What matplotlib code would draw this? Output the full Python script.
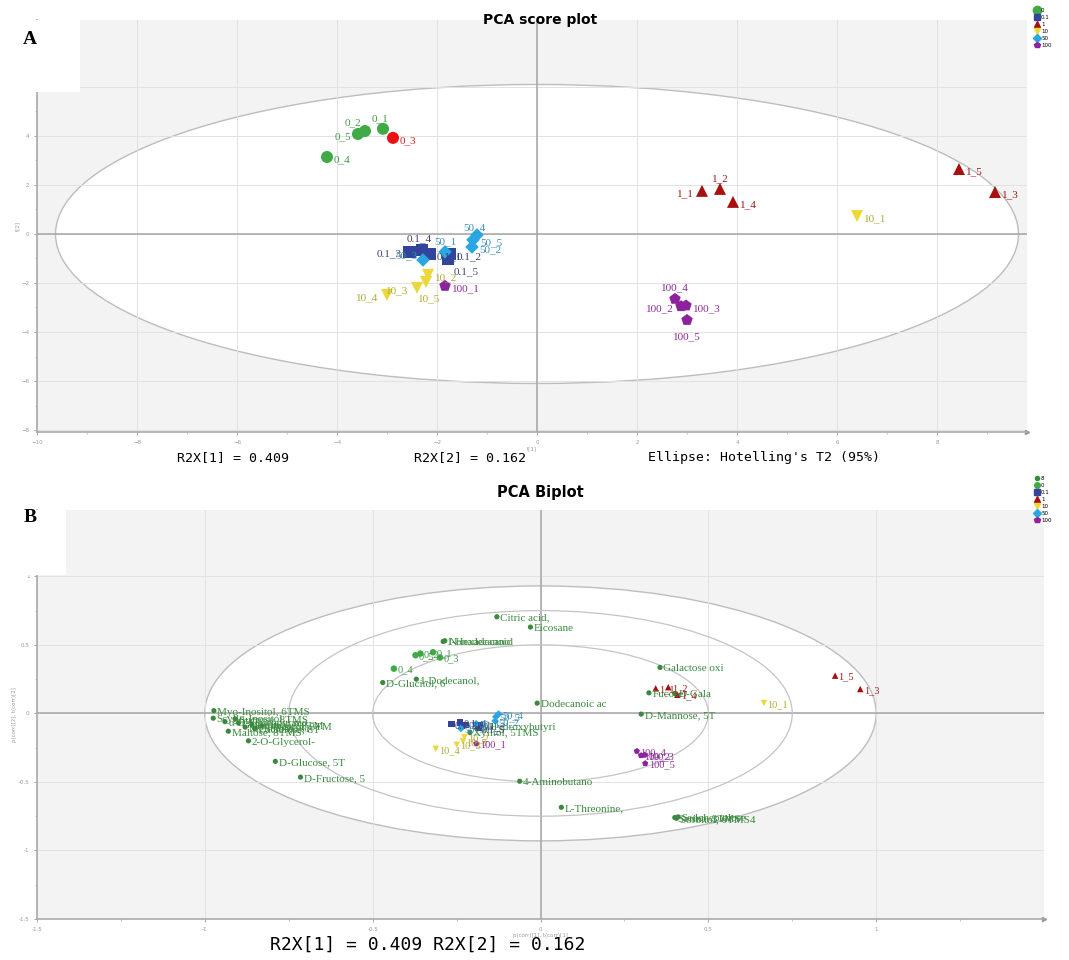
import matplotlib
matplotlib.use("Agg")
import matplotlib.pyplot as plt
from matplotlib.patches import Ellipse, Rectangle
from matplotlib.lines import Line2D

# ---- data: PCA scores (t[1], t[2]) per group ----
groups = ["0", "0.1", "1", "10", "50", "100"]
score_names = {
    "0": ["0_1", "0_2", "0_3", "0_4", "0_5"],
    "0.1": ["0.1_1", "0.1_2", "0.1_3", "0.1_4", "0.1_5"],
    "1": ["1_1", "1_2", "1_3", "1_4", "1_5"],
    "10": ["10_1", "10_2", "10_3", "10_4", "10_5"],
    "50": ["50_1", "50_2", "50_3", "50_4", "50_5"],
    "100": ["100_1", "100_2", "100_3", "100_4", "100_5"],
}
t1 = {
    "0": [-3.08, -3.44, -2.88, -4.20, -3.58],
    "0.1": [-2.15, -1.75, -2.55, -2.30, -1.78],
    "1": [3.30, 3.66, 9.16, 3.92, 8.44],
    "10": [6.40, -2.18, -2.40, -3.00, -2.22],
    "50": [-1.84, -1.30, -2.28, -1.20, -1.28],
    "100": [-1.84, 2.88, 2.98, 2.76, 3.00],
}
t2 = {
    "0": [4.29, 4.20, 3.92, 3.14, 4.08],
    "0.1": [-0.80, -0.82, -0.75, -0.65, -1.02],
    "1": [1.76, 1.84, 1.71, 1.31, 2.65],
    "10": [0.73, -1.67, -2.20, -2.49, -1.96],
    "50": [-0.73, -0.53, -1.06, -0.04, -0.24],
    "100": [-2.12, -2.95, -2.92, -2.65, -3.51],
}

# loadings p(corr)
load_names = ["Myo-Inositol, 6TMS", "Scyllo-Inositol", "α-D-Glucopyrano", "Sucrose, 8TMS",
              "Galactinol, 9", "Maltose, 8TMS", "Melibiose, 8T", "Turanose, 8TM",
              "Lactulose, 8T", "Glycerol, 3TM", "2-O-Glycerol-", "D-Glucose, 5T",
              "D-Fructose, 5", "Citric acid,", "Eicosane", "1-Hexadecanol",
              "Nonadecanoic", "D-Glucitol, 6", "1-Dodecanol,", "Dodecanoic ac",
              "3-Hydroxybutyri", "Xylitol, 5TMS", "4-Aminobutano", "L-Threonine,",
              "Galactose oxi", "Fucose", "D-Gala", "D-Mannose, 5T",
              "Serine, 3TMS", "Sorbitol, 6TMS4", "Sedoheptulose"]
load_x = [-0.973, -0.975, -0.94, -0.91, -0.90, -0.93, -0.88, -0.86, -0.85, -0.83,
          -0.87, -0.79, -0.715, -0.13, -0.03, -0.29, -0.285, -0.47, -0.37, -0.01,
          -0.19, -0.21, -0.062, 0.062, 0.356, 0.323, 0.40, 0.30, 0.40, 0.405, 0.41]
load_y = [0.02, -0.035, -0.06, -0.04, -0.07, -0.13, -0.10, -0.08, -0.11, -0.09,
          -0.20, -0.35, -0.465, 0.705, 0.63, 0.525, 0.53, 0.225, 0.25, 0.075,
          -0.09, -0.14, -0.495, -0.685, 0.335, 0.15, 0.145, -0.005, -0.76, -0.765, -0.755]

biplot_scale = 0.104   # scores scaled into loading space
r2x = [0.409, 0.162]
t2_ellipse = (9.63, 6.10)

colors = {"0": "#3faa46", "0.1": "#33449c", "1": "#a80f0f", "10": "#ecd83a",
          "50": "#2aa6e2", "100": "#8c229e"}
text_colors = {"0": "#3f9a45", "0.1": "#3a4470", "1": "#9a1a1a", "10": "#b5a832",
               "50": "#3a8fb8", "100": "#8a2a96"}
markers = {"0": "o", "0.1": "s", "1": "^", "10": "v", "50": "D", "100": "p"}
load_color = "#3a8a3e"
selected = "0_3"   # highlighted observation in the score plot

# label offsets in the score plot (points)
offs = {"0_1": (-2, 7, "center"), "0_2": (-3, 6, "right"), "0_3": (5, -2, "left"),
        "0_5": (-5, -2, "right"), "1_1": (-6, -2, "right"), "1_2": (0, 7, "center"),
        "10_3": (-6, -2, "right"), "10_4": (-6, -2, "right"), "10_5": (2, -12, "center"),
        "50_1": (0, 7, "center"), "50_3": (-4, 3, "right"), "50_4": (-2, 5, "center"),
        "0.1_3": (-6, -1, "right"), "0.1_4": (-2, 8, "center"), "0.1_5": (4, -9, "left"),
        "100_2": (-5, -2, "right"), "100_4": (0, 8, "center"), "100_5": (0, -12, "center")}

fig = plt.figure(figsize=(10.69, 9.6), dpi=100)
W, H = 1069, 960


def style_axes(ax):
    ax.set_facecolor("#f3f3f3")
    ax.grid(True, color="#e2e2e2", lw=0.7)
    for s in ["top", "right"]:
        ax.spines[s].set_visible(False)
    for s in ["left", "bottom"]:
        ax.spines[s].set_color("#aaaaaa")
        ax.spines[s].set_linewidth(1.2)
    ax.tick_params(labelsize=4, colors="#999999", length=2, width=0.6)
    ax.tick_params(which="minor", length=1.5, width=0.5, colors="#aaaaaa")
    ax.axhline(0, color="#a5a5a5", lw=1.1, zorder=1.6)
    ax.axvline(0, color="#a5a5a5", lw=1.1, zorder=1.6)
    ax.plot(1, 0, ">", transform=ax.transAxes, clip_on=False, ms=3, color="#999999")


# ---------- A: score plot ----------
ax1 = fig.add_axes([37 / W, 1 - 432 / H, 990 / W, 412 / H])
style_axes(ax1)
ax1.set_xlim(-10, 9.8)
ax1.set_ylim(-8.08, 8.73)
ax1.set_xticks(range(-10, 9, 2))
ax1.set_xticks(range(-10, 10), minor=True)
ax1.set_yticks(range(-8, 7, 2))
ax1.set_yticks(range(-8, 8), minor=True)
ax1.add_patch(Ellipse((0, 0), 2 * t2_ellipse[0], 2 * t2_ellipse[1], facecolor="white",
                      edgecolor="#bdbdbd", lw=1.0, zorder=0.5))
ax1.set_xlabel("t[1]", fontsize=4, color="#999999", labelpad=1)
ax1.set_ylabel("t[2]", fontsize=4, color="#999999", labelpad=1)

handles = []
for g in groups:
    cols = [colors[g]] * 5
    for i, n in enumerate(score_names[g]):
        if n == selected:
            cols[i] = "#ee1111"
    ax1.scatter(t1[g], t2[g], s=75 if g != "50" else 48, marker=markers[g], c=cols,
                edgecolors="none", zorder=3)
    for n, x, y in zip(score_names[g], t1[g], t2[g]):
        dx, dy, ha = offs.get(n, (5, -2, "left"))
        ax1.annotate(n, (x, y), xytext=(dx, dy), textcoords="offset points", ha=ha,
                     va="center", fontsize=8, family="Liberation Serif",
                     color="#d42020" if n == selected else text_colors[g], zorder=4)
    handles.append(Line2D([], [], ls="none", marker=markers[g], color=colors[g],
                          ms=6 if g == "0" else 4))

fig.legend(handles, groups, loc="upper left", bbox_to_anchor=(1030 / W, 1 - 4 / H),
           frameon=False, fontsize=4, handletextpad=0.1, labelspacing=0.35,
           handlelength=1.2, borderpad=0.2)

fig.text(540 / W, 1 - 20 / H, "PCA score plot", ha="center", va="center",
         fontsize=10, fontweight="bold")
fig.text(233 / W, 1 - 458 / H, "R2X[1] = %.3f" % r2x[0], ha="center", va="center",
         fontsize=9.5, family="DejaVu Sans Mono")
fig.text(470 / W, 1 - 458 / H, "R2X[2] = %.3f" % r2x[1], ha="center", va="center",
         fontsize=9.5, family="DejaVu Sans Mono")
fig.text(764 / W, 1 - 458 / H, "Ellipse: Hotelling's T2 (95%)", ha="center",
         va="center", fontsize=9.5, family="DejaVu Sans Mono")

# ---------- B: biplot ----------
ax2 = fig.add_axes([37 / W, 1 - 919 / H, 1007 / W, 409 / H])
style_axes(ax2)
ax2.set_xlim(-1.5, 1.5)
ax2.set_ylim(-1.5, 1.484)
ax2.set_xticks([-1.5, -1, -0.5, 0, 0.5, 1])
ax2.set_xticklabels(["-1.5", "-1", "-0.5", "0", "0.5", "1"])
ax2.set_xticks([i * 0.25 - 1.5 for i in range(12)], minor=True)
ax2.set_yticks([-1.5, -1, -0.5, 0, 0.5, 1])
ax2.set_yticklabels(["-1.5", "-1", "-0.5", "0", "0.5", "1"])
ax2.set_yticks([i * 0.25 - 1.5 for i in range(12)], minor=True)
ax2.add_patch(Ellipse((0, 0), 2.0, 1.86, facecolor="white", edgecolor="#bdbdbd",
                      lw=1.0, zorder=0.5))
for r in [0.75, 0.5]:
    ax2.add_patch(Ellipse((0, 0), 2 * r, 2 * r, facecolor="none", edgecolor="#c4c4c4",
                          lw=0.9, zorder=1.7))
ax2.set_xlabel("p(corr)[1], t(corr)[1]", fontsize=4, color="#999999", labelpad=1)
ax2.set_ylabel("p(corr)[2], t(corr)[2]", fontsize=4, color="#999999", labelpad=1)

ax2.scatter(load_x, load_y, s=14, c=load_color, edgecolors="none", zorder=3)
for n, x, y in zip(load_names, load_x, load_y):
    ax2.annotate(n, (x, y), xytext=(2.5, -1), textcoords="offset points", ha="left",
                 va="center", fontsize=8, family="Liberation Serif", color=load_color,
                 zorder=4)

bhandles = [Line2D([], [], ls="none", marker="o", color=load_color, ms=3)]
for g in groups:
    bx = [v * biplot_scale for v in t1[g]]
    by = [v * biplot_scale for v in t2[g]]
    ax2.scatter(bx, by, s=22 if g != "50" else 15, marker=markers[g], c=colors[g],
                edgecolors="none", zorder=3)
    for n, x, y in zip(score_names[g], bx, by):
        ax2.annotate(n, (x, y), xytext=(2.5, -1), textcoords="offset points", ha="left",
                     va="center", fontsize=7.5, family="Liberation Serif",
                     color=text_colors[g], zorder=4)
    bhandles.append(Line2D([], [], ls="none", marker=markers[g], color=colors[g],
                           ms=4))

fig.legend(bhandles, ["8"] + groups, loc="upper left",
           bbox_to_anchor=(1030 / W, 1 - 472 / H), frameon=False, fontsize=4,
           handletextpad=0.1, labelspacing=0.35, handlelength=1.2, borderpad=0.2)

fig.text(540 / W, 1 - 493 / H, "PCA Biplot", ha="center", va="center",
         fontsize=10.5, fontweight="bold")
fig.text(428 / W, 1 - 945 / H, "R2X[1] = %.3f R2X[2] = %.3f" % (r2x[0], r2x[1]),
         ha="center", va="center", fontsize=13, family="DejaVu Sans Mono")

# white header blocks at the top-left of each panel, and the panel letters
fig.add_artist(Rectangle((0, 1 - 92 / H), 80 / W, 72 / H, transform=fig.transFigure,
                         facecolor="white", edgecolor="none", zorder=5))
fig.add_artist(Rectangle((0, 1 - 575 / H), 66 / W, 65 / H, transform=fig.transFigure,
                         facecolor="white", edgecolor="none", zorder=5))
fig.text(30 / W, 1 - 40 / H, "A", fontsize=14, fontweight="bold",
         family="Liberation Serif", ha="center", va="center", zorder=6)
fig.text(30 / W, 1 - 518 / H, "B", fontsize=14, fontweight="bold",
         family="Liberation Serif", ha="center", va="center", zorder=6)

fig.savefig("out.png", dpi=100)
